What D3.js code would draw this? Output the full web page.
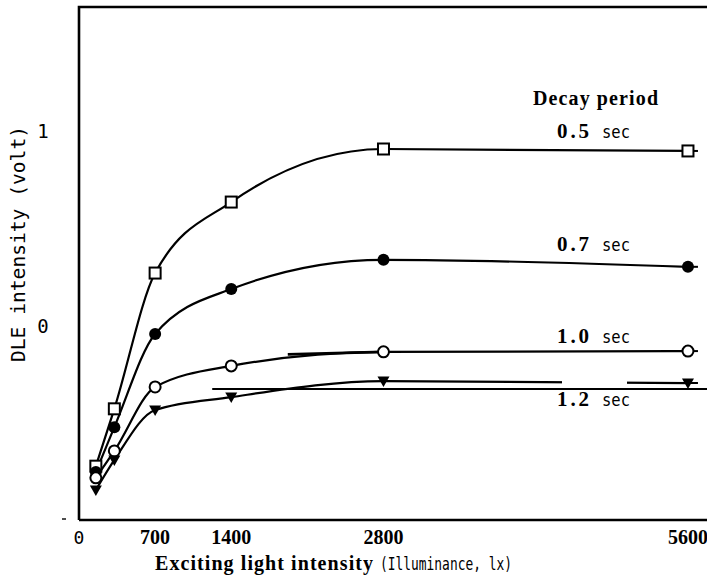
<!DOCTYPE html>
<html>
<head>
<meta charset="utf-8">
<script src="https://cdn.jsdelivr.net/npm/d3@7/dist/d3.min.js"></script>
<style>
  html, body { margin: 0; padding: 0; background: #fff; }
  svg { display: block; }
</style>
</head>
<body>
<svg id="chart" width="707" height="576"></svg>
<script>
// Exciting light (lx) at which DLE was measured
const illuminance = [155, 325, 700, 1400, 2800, 5600];
// Decay periods (sec), one curve each
const decayPeriods = ["0.5", "0.7", "1.0", "1.2"];
// DLE intensity (volt) per decay period
const dle05 = [0.138, 0.285, 0.633, 0.815, 0.951, 0.946];
const dle07 = [0.123, 0.238, 0.477, 0.592, 0.667, 0.649];
const dle10 = [0.108, 0.177, 0.341, 0.395, 0.431, 0.433];
const dle12 = [0.077, 0.154, 0.282, 0.315, 0.356, 0.351];
// Axis ticks
const xTickValues = [0, 700, 1400, 2800, 5600];
const yTickValues = [1.0, 0.5];
const yTickLabels = ["1", "0"];

const svg = d3.select("#chart");
const SERIF = "'Liberation Serif', 'Times New Roman', serif";
const MONO = "'DejaVu Sans Mono', 'Liberation Mono', monospace";

const x = d3.scaleLinear().domain([0, 5775]).range([79, 707]);
const y = d3.scaleLinear().domain([0, 1.315]).range([520, 7]);

const seriesValues = [dle05, dle07, dle10, dle12];
const series = decayPeriods.map((p, i) => ({
  period: p,
  values: illuminance.map((lx, j) => ({ lx, v: seriesValues[i][j] }))
}));

// marker style and label placement per series
const markerKind = ["square", "dot", "ring", "triangle"];
const labelOffset = [-13, -16, -8, 23];

// frame: left and top border plus the baseline
svg.append("path")
  .attr("d", `M${x(0)},${y(0)} L${x(0)},${y.range()[1]} L${x.range()[1]},${y.range()[1]}`)
  .attr("fill", "none").attr("stroke", "#000").attr("stroke-width", 2.6);
svg.append("line")
  .attr("x1", x(0)).attr("x2", x.range()[1])
  .attr("y1", y(0)).attr("y2", y(0))
  .attr("stroke", "#000").attr("stroke-width", 2.6);
// small dash left of the origin
svg.append("line")
  .attr("x1", x(0) - 17).attr("x2", x(0) - 13)
  .attr("y1", y(0) - 1).attr("y2", y(0) - 1)
  .attr("stroke", "#000").attr("stroke-width", 1.4);

// clip with a break in the 1.2 sec plateau
const defs = svg.append("defs");
const brk = defs.append("clipPath").attr("id", "break12");
brk.append("rect").attr("x", 0).attr("y", 0).attr("width", 562).attr("height", 576);
brk.append("rect").attr("x", 627).attr("y", 0).attr("width", 80).attr("height", 576);

const line = d3.line()
  .x(d => x(d.lx))
  .y(d => y(d.v))
  .curve(d3.curveMonotoneX);

const g = svg.append("g");

series.forEach((s, i) => {
  const last = s.values[s.values.length - 1];
  const grp = g.append("g");
  if (i === 3) grp.attr("clip-path", "url(#break12)");
  grp.append("path")
    .attr("d", line(s.values))
    .attr("fill", "none")
    .attr("stroke", "#000")
    .attr("stroke-width", 2.2);
  // short tail past the last point
  grp.append("line")
    .attr("x1", x(last.lx)).attr("x2", x(last.lx) + 10)
    .attr("y1", y(last.v)).attr("y2", y(last.v))
    .attr("stroke", "#000").attr("stroke-width", 2);
});

// heavier stroke over part of the 1.0 sec curve
g.append("line")
  .attr("x1", x(1920)).attr("x2", x(2800))
  .attr("y1", y(dle10[4]) + 2.5).attr("y2", y(dle10[4]))
  .attr("stroke", "#000").attr("stroke-width", 2.6);

// guide rule under the 1.2 sec curve
g.append("line")
  .attr("x1", x(1225)).attr("x2", x.range()[1])
  .attr("y1", y(0.336)).attr("y2", y(0.336))
  .attr("stroke", "#000").attr("stroke-width", 2);

// markers
series.forEach((s, i) => {
  const kind = markerKind[i];
  const mg = g.append("g");
  s.values.forEach(d => {
    const cx = x(d.lx), cy = y(d.v);
    if (kind === "square") {
      mg.append("rect")
        .attr("x", cx - 5.5).attr("y", cy - 5.5)
        .attr("width", 11).attr("height", 11)
        .attr("fill", "#fff").attr("stroke", "#000").attr("stroke-width", 2);
    } else if (kind === "dot") {
      mg.append("circle").attr("cx", cx).attr("cy", cy).attr("r", 6)
        .attr("fill", "#000");
    } else if (kind === "ring") {
      mg.append("circle").attr("cx", cx).attr("cy", cy).attr("r", 5.5)
        .attr("fill", "#fff").attr("stroke", "#000").attr("stroke-width", 2);
    } else {
      mg.append("path")
        .attr("d", `M${cx - 6},${cy - 4.5} L${cx + 6},${cy - 4.5} L${cx},${cy + 6} Z`)
        .attr("fill", "#000");
    }
  });
});

// series labels
svg.append("text")
  .attr("x", 533).attr("y", 105)
  .attr("font-family", SERIF).attr("font-weight", "bold").attr("font-size", 20)
  .attr("textLength", 125).attr("lengthAdjust", "spacing")
  .text("Decay period");

series.forEach((s, i) => {
  const last = s.values[s.values.length - 1];
  const by = y(last.v) + labelOffset[i];
  svg.append("text")
    .attr("x", 557).attr("y", by)
    .attr("font-family", SERIF).attr("font-weight", "bold").attr("font-size", 21)
    .attr("textLength", 32).attr("lengthAdjust", "spacing")
    .text(s.period);
  svg.append("text")
    .attr("x", 602).attr("y", by)
    .attr("font-family", MONO).attr("font-size", 18)
    .attr("textLength", 28).attr("lengthAdjust", "spacingAndGlyphs")
    .text("sec");
});

// x tick labels
const xAxisG = svg.append("g");
xTickValues.forEach(v => {
  const t = xAxisG.append("text")
    .attr("x", x(v)).attr("y", 544)
    .attr("text-anchor", "middle");
  if (v === 0) {
    t.attr("font-family", MONO).attr("font-size", 18).text("0");
  } else {
    t.attr("font-family", SERIF).attr("font-weight", "bold").attr("font-size", 20)
      .text(String(v));
  }
});

// y tick labels
yTickValues.forEach((v, i) => {
  svg.append("text")
    .attr("x", 43).attr("y", y(v) + 8)
    .attr("text-anchor", "middle")
    .attr("font-family", MONO).attr("font-size", 19)
    .text(yTickLabels[i]);
});

// x axis title
svg.append("text")
  .attr("x", 155).attr("y", 570)
  .attr("font-family", SERIF).attr("font-weight", "bold").attr("font-size", 20)
  .attr("textLength", 218).attr("lengthAdjust", "spacing")
  .text("Exciting light intensity");
svg.append("text")
  .attr("x", 380).attr("y", 570)
  .attr("font-family", MONO).attr("font-size", 18)
  .attr("textLength", 132).attr("lengthAdjust", "spacingAndGlyphs")
  .text("(Illuminance, lx)");

// y axis title
svg.append("text")
  .attr("transform", "translate(25,244) rotate(-90)")
  .attr("text-anchor", "middle")
  .attr("font-family", MONO).attr("font-size", 19)
  .attr("textLength", 236).attr("lengthAdjust", "spacingAndGlyphs")
  .text("DLE intensity (volt)");
</script>
</body>
</html>
